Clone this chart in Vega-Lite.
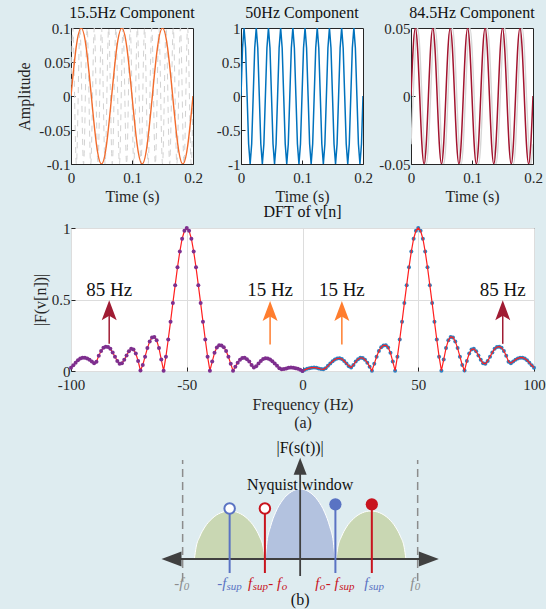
{
"$schema": "https://vega.github.io/schema/vega-lite/v6.json",
"background": "#deecf0",
"padding": {"left": 16, "top": 4, "right": 0, "bottom": 0},
"spacing": -2,
"resolve": {"scale": {"color": "independent"}},
"datasets": {
"p1sig": [{"t":0,"a":0},{"t":0.00833,"a":0.0707},{"t":0.01667,"a":0.1},{"t":0.025,"a":0.0707},{"t":0.03333,"a":0},{"t":0.04167,"a":-0.0707},{"t":0.05,"a":-0.1},{"t":0.05833,"a":-0.0707},{"t":0.06667,"a":0},{"t":0.075,"a":0.0707},{"t":0.08333,"a":0.1},{"t":0.09167,"a":0.0707},{"t":0.1,"a":0},{"t":0.10833,"a":-0.0707},{"t":0.11667,"a":-0.1},{"t":0.125,"a":-0.0707},{"t":0.13333,"a":0},{"t":0.14167,"a":0.0707},{"t":0.15,"a":0.1},{"t":0.15833,"a":0.0707},{"t":0.16667,"a":0},{"t":0.175,"a":-0.0707},{"t":0.18333,"a":-0.1},{"t":0.19167,"a":-0.0707},{"t":0.2,"a":0}],
"p1ref": [{"t":0,"a":0},{"t":0.00294,"a":0.1},{"t":0.00588,"a":0},{"t":0.00882,"a":-0.1},{"t":0.01176,"a":0},{"t":0.01471,"a":0.1},{"t":0.01765,"a":0},{"t":0.02059,"a":-0.1},{"t":0.02353,"a":0},{"t":0.02647,"a":0.1},{"t":0.02941,"a":0},{"t":0.03235,"a":-0.1},{"t":0.03529,"a":0},{"t":0.03824,"a":0.1},{"t":0.04118,"a":0},{"t":0.04412,"a":-0.1},{"t":0.04706,"a":0},{"t":0.05,"a":0.1},{"t":0.05294,"a":0},{"t":0.05588,"a":-0.1},{"t":0.05882,"a":0},{"t":0.06176,"a":0.1},{"t":0.06471,"a":0},{"t":0.06765,"a":-0.1},{"t":0.07059,"a":0},{"t":0.07353,"a":0.1},{"t":0.07647,"a":0},{"t":0.07941,"a":-0.1},{"t":0.08235,"a":0},{"t":0.08529,"a":0.1},{"t":0.08824,"a":0},{"t":0.09118,"a":-0.1},{"t":0.09412,"a":0},{"t":0.09706,"a":0.1},{"t":0.1,"a":0},{"t":0.10294,"a":-0.1},{"t":0.10588,"a":0},{"t":0.10882,"a":0.1},{"t":0.11176,"a":0},{"t":0.11471,"a":-0.1},{"t":0.11765,"a":0},{"t":0.12059,"a":0.1},{"t":0.12353,"a":0},{"t":0.12647,"a":-0.1},{"t":0.12941,"a":0},{"t":0.13235,"a":0.1},{"t":0.13529,"a":0},{"t":0.13824,"a":-0.1},{"t":0.14118,"a":0},{"t":0.14412,"a":0.1},{"t":0.14706,"a":0},{"t":0.15,"a":-0.1},{"t":0.15294,"a":0},{"t":0.15588,"a":0.1},{"t":0.15882,"a":0},{"t":0.16176,"a":-0.1},{"t":0.16471,"a":0},{"t":0.16765,"a":0.1},{"t":0.17059,"a":0},{"t":0.17353,"a":-0.1},{"t":0.17647,"a":0},{"t":0.17941,"a":0.1},{"t":0.18235,"a":0},{"t":0.18529,"a":-0.1},{"t":0.18824,"a":0},{"t":0.19118,"a":0.1},{"t":0.19412,"a":0},{"t":0.19706,"a":-0.1},{"t":0.2,"a":0}],
"p2": [{"t":0,"a":0},{"t":0.0025,"a":0.707},{"t":0.005,"a":1},{"t":0.0075,"a":0.707},{"t":0.01,"a":0},{"t":0.0125,"a":-0.707},{"t":0.015,"a":-1},{"t":0.0175,"a":-0.707},{"t":0.02,"a":0},{"t":0.0225,"a":0.707},{"t":0.025,"a":1},{"t":0.0275,"a":0.707},{"t":0.03,"a":0},{"t":0.0325,"a":-0.707},{"t":0.035,"a":-1},{"t":0.0375,"a":-0.707},{"t":0.04,"a":0},{"t":0.0425,"a":0.707},{"t":0.045,"a":1},{"t":0.0475,"a":0.707},{"t":0.05,"a":0},{"t":0.0525,"a":-0.707},{"t":0.055,"a":-1},{"t":0.0575,"a":-0.707},{"t":0.06,"a":0},{"t":0.0625,"a":0.707},{"t":0.065,"a":1},{"t":0.0675,"a":0.707},{"t":0.07,"a":0},{"t":0.0725,"a":-0.707},{"t":0.075,"a":-1},{"t":0.0775,"a":-0.707},{"t":0.08,"a":0},{"t":0.0825,"a":0.707},{"t":0.085,"a":1},{"t":0.0875,"a":0.707},{"t":0.09,"a":0},{"t":0.0925,"a":-0.707},{"t":0.095,"a":-1},{"t":0.0975,"a":-0.707},{"t":0.1,"a":0},{"t":0.1025,"a":0.707},{"t":0.105,"a":1},{"t":0.1075,"a":0.707},{"t":0.11,"a":0},{"t":0.1125,"a":-0.707},{"t":0.115,"a":-1},{"t":0.1175,"a":-0.707},{"t":0.12,"a":0},{"t":0.1225,"a":0.707},{"t":0.125,"a":1},{"t":0.1275,"a":0.707},{"t":0.13,"a":0},{"t":0.1325,"a":-0.707},{"t":0.135,"a":-1},{"t":0.1375,"a":-0.707},{"t":0.14,"a":0},{"t":0.1425,"a":0.707},{"t":0.145,"a":1},{"t":0.1475,"a":0.707},{"t":0.15,"a":0},{"t":0.1525,"a":-0.707},{"t":0.155,"a":-1},{"t":0.1575,"a":-0.707},{"t":0.16,"a":0},{"t":0.1625,"a":0.707},{"t":0.165,"a":1},{"t":0.1675,"a":0.707},{"t":0.17,"a":0},{"t":0.1725,"a":-0.707},{"t":0.175,"a":-1},{"t":0.1775,"a":-0.707},{"t":0.18,"a":0},{"t":0.1825,"a":0.707},{"t":0.185,"a":1},{"t":0.1875,"a":0.707},{"t":0.19,"a":0},{"t":0.1925,"a":-0.707},{"t":0.195,"a":-1},{"t":0.1975,"a":-0.707},{"t":0.2,"a":0}],
"p3": [{"t":0,"r":0,"g":-0.0354},{"t":0.00357,"r":0.0354,"g":0},{"t":0.00714,"r":0.05,"g":0.0354},{"t":0.01071,"r":0.0354,"g":0.05},{"t":0.01429,"r":0,"g":0.0354},{"t":0.01786,"r":-0.0354,"g":0},{"t":0.02143,"r":-0.05,"g":-0.0354},{"t":0.025,"r":-0.0354,"g":-0.05},{"t":0.02857,"r":0,"g":-0.0354},{"t":0.03214,"r":0.0354,"g":0},{"t":0.03571,"r":0.05,"g":0.0354},{"t":0.03929,"r":0.0354,"g":0.05},{"t":0.04286,"r":0,"g":0.0354},{"t":0.04643,"r":-0.0354,"g":0},{"t":0.05,"r":-0.05,"g":-0.0354},{"t":0.05357,"r":-0.0354,"g":-0.05},{"t":0.05714,"r":0,"g":-0.0354},{"t":0.06071,"r":0.0354,"g":0},{"t":0.06429,"r":0.05,"g":0.0354},{"t":0.06786,"r":0.0354,"g":0.05},{"t":0.07143,"r":0,"g":0.0354},{"t":0.075,"r":-0.0354,"g":0},{"t":0.07857,"r":-0.05,"g":-0.0354},{"t":0.08214,"r":-0.0354,"g":-0.05},{"t":0.08571,"r":0,"g":-0.0354},{"t":0.08929,"r":0.0354,"g":0},{"t":0.09286,"r":0.05,"g":0.0354},{"t":0.09643,"r":0.0354,"g":0.05},{"t":0.1,"r":0,"g":0.0354},{"t":0.10357,"r":-0.0354,"g":0},{"t":0.10714,"r":-0.05,"g":-0.0354},{"t":0.11071,"r":-0.0354,"g":-0.05},{"t":0.11429,"r":0,"g":-0.0354},{"t":0.11786,"r":0.0354,"g":0},{"t":0.12143,"r":0.05,"g":0.0354},{"t":0.125,"r":0.0354,"g":0.05},{"t":0.12857,"r":0,"g":0.0354},{"t":0.13214,"r":-0.0354,"g":0},{"t":0.13571,"r":-0.05,"g":-0.0354},{"t":0.13929,"r":-0.0354,"g":-0.05},{"t":0.14286,"r":0,"g":-0.0354},{"t":0.14643,"r":0.0354,"g":0},{"t":0.15,"r":0.05,"g":0.0354},{"t":0.15357,"r":0.0354,"g":0.05},{"t":0.15714,"r":0,"g":0.0354},{"t":0.16071,"r":-0.0354,"g":0},{"t":0.16429,"r":-0.05,"g":-0.0354},{"t":0.16786,"r":-0.0354,"g":-0.05},{"t":0.17143,"r":0,"g":-0.0354},{"t":0.175,"r":0.0354,"g":0},{"t":0.17857,"r":0.05,"g":0.0354},{"t":0.18214,"r":0.0354,"g":0.05},{"t":0.18571,"r":0,"g":0.0354},{"t":0.18929,"r":-0.0354,"g":0},{"t":0.19286,"r":-0.05,"g":-0.0354},{"t":0.19643,"r":-0.0354,"g":-0.05},{"t":0.2,"r":0,"g":-0.0354}],
"dft": [{"f":-100,"v":0.023},{"f":-99,"v":0.04},{"f":-98,"v":0.058},{"f":-97,"v":0.075},{"f":-96,"v":0.087},{"f":-95,"v":0.093},{"f":-94,"v":0.093},{"f":-93,"v":0.088},{"f":-92,"v":0.079},{"f":-91,"v":0.066},{"f":-90,"v":0.055},{"f":-89,"v":0.065},{"f":-88,"v":0.107},{"f":-87,"v":0.14},{"f":-86,"v":0.163},{"f":-85,"v":0.17},{"f":-84,"v":0.168},{"f":-83,"v":0.155},{"f":-82,"v":0.13},{"f":-81,"v":0.1},{"f":-80,"v":0.07},{"f":-79,"v":0.05},{"f":-78,"v":0.055},{"f":-77,"v":0.078},{"f":-76,"v":0.108},{"f":-75,"v":0.138},{"f":-74,"v":0.155},{"f":-73,"v":0.15},{"f":-72,"v":0.122},{"f":-71,"v":0.07},{"f":-70,"v":0.003},{"f":-69,"v":0.042},{"f":-68,"v":0.1},{"f":-67,"v":0.16},{"f":-66,"v":0.207},{"f":-65,"v":0.235},{"f":-64,"v":0.238},{"f":-63,"v":0.215},{"f":-62,"v":0.16},{"f":-61,"v":0.08},{"f":-60,"v":0.002},{"f":-59,"v":0.1},{"f":-58,"v":0.22},{"f":-57,"v":0.345},{"f":-56,"v":0.475},{"f":-55,"v":0.6},{"f":-54,"v":0.725},{"f":-53,"v":0.835},{"f":-52,"v":0.925},{"f":-51,"v":0.98},{"f":-50,"v":1},{"f":-49,"v":0.98},{"f":-48,"v":0.925},{"f":-47,"v":0.835},{"f":-46,"v":0.725},{"f":-45,"v":0.6},{"f":-44,"v":0.475},{"f":-43,"v":0.345},{"f":-42,"v":0.22},{"f":-41,"v":0.1},{"f":-40,"v":0.002},{"f":-39,"v":0.066},{"f":-38,"v":0.127},{"f":-37,"v":0.165},{"f":-36,"v":0.18},{"f":-35,"v":0.179},{"f":-34,"v":0.166},{"f":-33,"v":0.14},{"f":-32,"v":0.1},{"f":-31,"v":0.05},{"f":-30,"v":0.002},{"f":-29,"v":0.03},{"f":-28,"v":0.058},{"f":-27,"v":0.079},{"f":-26,"v":0.091},{"f":-25,"v":0.092},{"f":-24,"v":0.083},{"f":-23,"v":0.066},{"f":-22,"v":0.042},{"f":-21,"v":0.025},{"f":-20,"v":0.034},{"f":-19,"v":0.052},{"f":-18,"v":0.07},{"f":-17,"v":0.084},{"f":-16,"v":0.089},{"f":-15,"v":0.087},{"f":-14,"v":0.08},{"f":-13,"v":0.068},{"f":-12,"v":0.053},{"f":-11,"v":0.036},{"f":-10,"v":0.02},{"f":-9,"v":0.012},{"f":-8,"v":0.014},{"f":-7,"v":0.018},{"f":-6,"v":0.022},{"f":-5,"v":0.024},{"f":-4,"v":0.023},{"f":-3,"v":0.02},{"f":-2,"v":0.015},{"f":-1,"v":0.008},{"f":0,"v":0},{"f":1,"v":0.008},{"f":2,"v":0.015},{"f":3,"v":0.02},{"f":4,"v":0.023},{"f":5,"v":0.024},{"f":6,"v":0.022},{"f":7,"v":0.018},{"f":8,"v":0.014},{"f":9,"v":0.012},{"f":10,"v":0.02},{"f":11,"v":0.036},{"f":12,"v":0.053},{"f":13,"v":0.068},{"f":14,"v":0.08},{"f":15,"v":0.087},{"f":16,"v":0.089},{"f":17,"v":0.084},{"f":18,"v":0.07},{"f":19,"v":0.052},{"f":20,"v":0.034},{"f":21,"v":0.025},{"f":22,"v":0.042},{"f":23,"v":0.066},{"f":24,"v":0.083},{"f":25,"v":0.092},{"f":26,"v":0.091},{"f":27,"v":0.079},{"f":28,"v":0.058},{"f":29,"v":0.03},{"f":30,"v":0.002},{"f":31,"v":0.05},{"f":32,"v":0.1},{"f":33,"v":0.14},{"f":34,"v":0.166},{"f":35,"v":0.179},{"f":36,"v":0.18},{"f":37,"v":0.165},{"f":38,"v":0.127},{"f":39,"v":0.066},{"f":40,"v":0.002},{"f":41,"v":0.1},{"f":42,"v":0.22},{"f":43,"v":0.345},{"f":44,"v":0.475},{"f":45,"v":0.6},{"f":46,"v":0.725},{"f":47,"v":0.835},{"f":48,"v":0.925},{"f":49,"v":0.98},{"f":50,"v":1},{"f":51,"v":0.98},{"f":52,"v":0.925},{"f":53,"v":0.835},{"f":54,"v":0.725},{"f":55,"v":0.6},{"f":56,"v":0.475},{"f":57,"v":0.345},{"f":58,"v":0.22},{"f":59,"v":0.1},{"f":60,"v":0.002},{"f":61,"v":0.08},{"f":62,"v":0.16},{"f":63,"v":0.215},{"f":64,"v":0.238},{"f":65,"v":0.235},{"f":66,"v":0.207},{"f":67,"v":0.16},{"f":68,"v":0.1},{"f":69,"v":0.042},{"f":70,"v":0.003},{"f":71,"v":0.07},{"f":72,"v":0.122},{"f":73,"v":0.15},{"f":74,"v":0.155},{"f":75,"v":0.138},{"f":76,"v":0.108},{"f":77,"v":0.078},{"f":78,"v":0.055},{"f":79,"v":0.05},{"f":80,"v":0.07},{"f":81,"v":0.1},{"f":82,"v":0.13},{"f":83,"v":0.155},{"f":84,"v":0.168},{"f":85,"v":0.17},{"f":86,"v":0.163},{"f":87,"v":0.14},{"f":88,"v":0.107},{"f":89,"v":0.065},{"f":90,"v":0.055},{"f":91,"v":0.066},{"f":92,"v":0.079},{"f":93,"v":0.088},{"f":94,"v":0.093},{"f":95,"v":0.093},{"f":96,"v":0.087},{"f":97,"v":0.075},{"f":98,"v":0.058},{"f":99,"v":0.04},{"f":100,"v":0.023}],
"arrows": [{"f":-83.5,"lo":0.19,"hi":0.43,"v":0.425,"ly":0.525,"k":"85","label":"85 Hz"},{"f":86.5,"lo":0.19,"hi":0.43,"v":0.425,"ly":0.525,"k":"85","label":"85 Hz"},{"f":-14,"lo":0.185,"hi":0.42,"v":0.42,"ly":0.525,"k":"15","label":"15 Hz"},{"f":17,"lo":0.185,"hi":0.42,"v":0.42,"ly":0.525,"k":"15","label":"15 Hz"}],
"humps": [{"x":-0.9,"y":0,"h":"L","k":"side"},{"x":-0.885,"y":0.119,"h":"L","k":"side"},{"x":-0.855,"y":0.222,"h":"L","k":"side"},{"x":-0.81,"y":0.321,"h":"L","k":"side"},{"x":-0.75,"y":0.404,"h":"L","k":"side"},{"x":-0.675,"y":0.462,"h":"L","k":"side"},{"x":-0.6,"y":0.48,"h":"L","k":"side"},{"x":-0.525,"y":0.462,"h":"L","k":"side"},{"x":-0.45,"y":0.404,"h":"L","k":"side"},{"x":-0.39,"y":0.321,"h":"L","k":"side"},{"x":-0.345,"y":0.222,"h":"L","k":"side"},{"x":-0.315,"y":0.119,"h":"L","k":"side"},{"x":-0.3,"y":0,"h":"L","k":"side"},
{"x":-0.297,"y":0,"h":"C","k":"nyq"},{"x":-0.282,"y":0.173,"h":"C","k":"nyq"},{"x":-0.252,"y":0.324,"h":"C","k":"nyq"},{"x":-0.208,"y":0.468,"h":"C","k":"nyq"},{"x":-0.149,"y":0.589,"h":"C","k":"nyq"},{"x":-0.074,"y":0.673,"h":"C","k":"nyq"},{"x":0,"y":0.7,"h":"C","k":"nyq"},{"x":0.074,"y":0.673,"h":"C","k":"nyq"},{"x":0.149,"y":0.589,"h":"C","k":"nyq"},{"x":0.208,"y":0.468,"h":"C","k":"nyq"},{"x":0.252,"y":0.324,"h":"C","k":"nyq"},{"x":0.282,"y":0.173,"h":"C","k":"nyq"},{"x":0.297,"y":0,"h":"C","k":"nyq"},
{"x":0.306,"y":0,"h":"R","k":"side"},{"x":0.321,"y":0.119,"h":"R","k":"side"},{"x":0.351,"y":0.222,"h":"R","k":"side"},{"x":0.395,"y":0.321,"h":"R","k":"side"},{"x":0.455,"y":0.404,"h":"R","k":"side"},{"x":0.529,"y":0.462,"h":"R","k":"side"},{"x":0.603,"y":0.48,"h":"R","k":"side"},{"x":0.677,"y":0.462,"h":"R","k":"side"},{"x":0.752,"y":0.404,"h":"R","k":"side"},{"x":0.811,"y":0.321,"h":"R","k":"side"},{"x":0.855,"y":0.222,"h":"R","k":"side"},{"x":0.885,"y":0.119,"h":"R","k":"side"},{"x":0.9,"y":0,"h":"R","k":"side"}],
"slines": [{"k":"lim","x":-1,"x2":-1,"y":-0.22,"y2":0.99},{"k":"lim","x":1,"x2":1,"y":-0.22,"y2":0.99},{"k":"axis","x":-1.1,"x2":1.1,"y":0,"y2":0},{"k":"axis","x":0,"x2":0,"y":-0.17,"y2":0.93},{"k":"sup","x":-0.6,"x2":-0.6,"y":-0.14,"y2":0.505},{"k":"alias","x":-0.3,"x2":-0.3,"y":-0.14,"y2":0.505},{"k":"sup","x":0.3,"x2":0.3,"y":-0.14,"y2":0.547},{"k":"alias","x":0.61,"x2":0.61,"y":-0.14,"y2":0.547}],
"heads": [{"x":-1.095,"y":0,"d":"left","k":"axis"},{"x":1.095,"y":0,"d":"right","k":"axis"},{"x":0,"y":0.928,"d":"up","k":"axis"}],
"circles": [{"x":-0.6,"y":0.505,"k":"sup","o":"open"},{"x":-0.3,"y":0.505,"k":"alias","o":"open"},{"x":0.3,"y":0.547,"k":"sup","o":"filled"},{"x":0.61,"y":0.547,"k":"alias","o":"filled"}],
"stext": [{"x":0,"y":1.06,"t":"|F(s(t))|"},{"x":0,"y":0.69,"t":"Nyquist window"},{"x":0,"y":-0.46,"t":"(b)"}],
"slab": [{"x":-0.706,"y":-0.29,"t":"-f","k":"sup","z":"main"},{"x":-0.626,"y":-0.31,"t":"sup","k":"sup","z":"sub"},{"x":-0.443,"y":-0.29,"t":"f","k":"alias","z":"main"},{"x":-0.404,"y":-0.31,"t":"sup","k":"alias","z":"sub"},{"x":-0.272,"y":-0.29,"t":"- f","k":"alias","z":"main"},{"x":-0.157,"y":-0.31,"t":"o","k":"alias","z":"sub"},{"x":0.128,"y":-0.29,"t":"f","k":"alias","z":"main"},{"x":0.166,"y":-0.31,"t":"o","k":"alias","z":"sub"},{"x":0.217,"y":-0.29,"t":"- f","k":"alias","z":"main"},{"x":0.332,"y":-0.31,"t":"sup","k":"alias","z":"sub"},{"x":0.545,"y":-0.29,"t":"f","k":"sup","z":"main"},{"x":0.583,"y":-0.31,"t":"sup","k":"sup","z":"sub"},{"x":-1.072,"y":-0.29,"t":"-f","k":"lim","z":"main"},{"x":-0.991,"y":-0.31,"t":"0","k":"lim","z":"sub"},{"x":0.936,"y":-0.29,"t":"f","k":"lim","z":"main"},{"x":0.975,"y":-0.31,"t":"0","k":"lim","z":"sub"}]
},
"vconcat": [
{
"hconcat": [
{
"width": 122, "height": 136,
"title": {"text": "15.5Hz Component"},
"encoding": {
"x": {"field": "t", "type": "quantitative", "scale": {"domain": [0, 0.2]}, "axis": {"title": "Time (s)", "values": [0, 0.1, 0.2], "labelExpr": "replace(format(datum.value,'~g'),'\u2212','-')"}},
"y": {"field": "a", "type": "quantitative", "scale": {"domain": [-0.1, 0.1]}, "axis": {"title": "Amplitude", "values": [-0.1, -0.05, 0, 0.05, 0.1], "labelExpr": "replace(format(datum.value,'~g'),'\u2212','-')"}}
},
"layer": [
{"data": {"name": "p1ref"}, "mark": {"type": "line", "color": "#d2d2d2", "strokeWidth": 1, "strokeDash": [6, 5], "interpolate": "natural", "clip": true}},
{"data": {"name": "p1sig"}, "mark": {"type": "line", "color": "#f26b2c", "strokeWidth": 1.4, "interpolate": "natural", "clip": true}}
]
},
{
"width": 122, "height": 136,
"title": {"text": "50Hz Component"},
"data": {"name": "p2"},
"mark": {"type": "line", "color": "#0072bd", "strokeWidth": 1.5, "clip": true},
"encoding": {
"x": {"field": "t", "type": "quantitative", "scale": {"domain": [0, 0.2]}, "axis": {"title": "Time (s)", "values": [0, 0.1, 0.2], "labelExpr": "replace(format(datum.value,'~g'),'\u2212','-')"}},
"y": {"field": "a", "type": "quantitative", "scale": {"domain": [-1, 1]}, "axis": {"title": null, "values": [-1, -0.5, 0, 0.5, 1], "labelExpr": "replace(format(datum.value,'~g'),'\u2212','-')"}}
}
},
{
"width": 122, "height": 136,
"title": {"text": "84.5Hz Component"},
"data": {"name": "p3"},
"encoding": {
"x": {"field": "t", "type": "quantitative", "scale": {"domain": [0, 0.2]}, "axis": {"title": "Time (s)", "values": [0, 0.1, 0.2], "labelExpr": "replace(format(datum.value,'~g'),'\u2212','-')"}}
},
"layer": [
{"mark": {"type": "line", "color": "#d6d6d6", "strokeWidth": 1.4, "interpolate": "natural", "clip": true},
 "encoding": {"y": {"field": "g", "type": "quantitative", "scale": {"domain": [-0.05, 0.05]}, "axis": {"title": null, "values": [-0.05, 0, 0.05], "labelExpr": "replace(format(datum.value,'~g'),'\u2212','-')"}}}},
{"mark": {"type": "line", "color": "#a2142f", "strokeWidth": 1.5, "interpolate": "natural", "clip": true},
 "encoding": {"y": {"field": "r", "type": "quantitative", "scale": {"domain": [-0.05, 0.05]}}}}
]
}
],
"spacing": 48,
"bounds": "flush"
},
{
"width": 463, "height": 143,
"title": {"text": "DFT of v[n]", "offset": 1},
"encoding": {
"x": {"field": "f", "type": "quantitative", "scale": {"domain": [-100, 100]}, "axis": {"title": ["Frequency (Hz)", "(a)"], "titleLineHeight": 18, "titlePadding": 4, "values": [-100, -50, 0, 50, 100], "grid": true, "gridColor": "#dddddd", "labelExpr": "replace(format(datum.value,'~g'),'\u2212','-')"}},
"y": {"field": "v", "type": "quantitative", "scale": {"domain": [0, 1]}, "axis": {"title": "|F(v[n])|", "values": [0, 0.5, 1], "grid": true, "gridColor": "#dddddd", "titlePadding": 3, "labelExpr": "replace(format(datum.value,'~g'),'\u2212','-')"}}
},
"layer": [
{"data": {"name": "dft"}, "transform": [{"filter": "datum.f >= 0"}], "mark": {"type": "point", "filled": true, "color": "#2f80c0", "size": 16, "opacity": 1}},
{"data": {"name": "dft"}, "mark": {"type": "line", "color": "#ff1f1f", "strokeWidth": 1.2}},
{"data": {"name": "dft"}, "transform": [{"filter": "datum.f <= 0"}], "mark": {"type": "point", "filled": true, "color": "#7e2f8e", "size": 16, "opacity": 1}},
{"data": {"name": "arrows"}, "mark": {"type": "rule", "strokeWidth": 1.5},
 "encoding": {"y": {"field": "lo", "type": "quantitative", "scale": {"domain": [0, 1]}}, "y2": {"field": "hi"}, "color": {"field": "k", "type": "nominal", "scale": {"domain": ["85", "15"], "range": ["#a01c33", "#ff7d2e"]}, "legend": null}}},
{"data": {"name": "arrows"}, "mark": {"type": "point", "filled": true, "opacity": 1, "size": 400, "shape": "M0,-1L0.75,1L0,0.55L-0.75,1Z"},
 "encoding": {"color": {"field": "k", "type": "nominal", "scale": {"domain": ["85", "15"], "range": ["#a01c33", "#ff7d2e"]}, "legend": null}}},
{"data": {"name": "arrows"}, "mark": {"type": "text", "fontSize": 19, "color": "#111111", "align": "center", "baseline": "alphabetic"},
 "encoding": {"y": {"field": "ly", "type": "quantitative", "scale": {"domain": [0, 1]}}, "text": {"field": "label"}}}
]
},
{
"width": 463, "height": 178,
"view": {"stroke": null, "fill": null},
"encoding": {
"x": {"field": "x", "type": "quantitative", "scale": {"domain": [-1.95, 1.99]}, "axis": null},
"y": {"field": "y", "type": "quantitative", "scale": {"domain": [-0.5, 1.28]}, "axis": null},
"color": {"field": "k", "type": "nominal", "scale": {"domain": ["sup", "alias", "lim", "axis", "side", "nyq"], "range": ["#5a73c3", "#c8141e", "#8c8c8c", "#404040", "#c9d7b3", "#b3c2df"]}, "legend": null}
},
"layer": [
{"data": {"name": "humps"}, "mark": {"type": "area", "interpolate": "monotone", "stroke": "white", "strokeWidth": 1, "opacity": 1},
 "encoding": {"y": {"field": "y", "type": "quantitative", "stack": null, "scale": {"domain": [-0.5, 1.28]}, "axis": null}, "y2": {"datum": 0}, "detail": {"field": "h"}}},
{"data": {"name": "slines"}, "transform": [{"filter": "datum.k == 'lim'"}], "mark": {"type": "rule", "strokeWidth": 1.5, "strokeDash": [8, 5]},
 "encoding": {"x2": {"field": "x2"}, "y2": {"field": "y2"}}},
{"data": {"name": "slines"}, "transform": [{"filter": "datum.k == 'axis'"}], "mark": {"type": "rule", "strokeWidth": 1.8},
 "encoding": {"x2": {"field": "x2"}, "y2": {"field": "y2"}}},
{"data": {"name": "slines"}, "transform": [{"filter": "datum.k == 'sup' || datum.k == 'alias'"}], "mark": {"type": "rule", "strokeWidth": 2},
 "encoding": {"x2": {"field": "x2"}, "y2": {"field": "y2"}}},
{"data": {"name": "heads"}, "mark": {"type": "point", "filled": true, "opacity": 1, "size": 400},
 "encoding": {"shape": {"field": "d", "type": "nominal", "scale": {"domain": ["left", "right", "up"], "range": ["M-1,0L1,-0.75L1,0.75Z", "M1,0L-1,-0.75L-1,0.75Z", "M0,-0.85L0.65,0.85L-0.65,0.85Z"]}, "legend": null}}},
{"data": {"name": "circles"}, "transform": [{"filter": "datum.o == 'open'"}], "mark": {"type": "point", "filled": false, "fill": "white", "fillOpacity": 1, "opacity": 1, "strokeWidth": 2, "size": 110}},
{"data": {"name": "circles"}, "transform": [{"filter": "datum.o == 'filled'"}], "mark": {"type": "point", "filled": true, "opacity": 1, "size": 150}},
{"data": {"name": "slab"}, "transform": [{"filter": "datum.z == 'main'"}], "mark": {"type": "text", "fontSize": 15, "fontStyle": "italic", "align": "left", "baseline": "alphabetic"},
 "encoding": {"text": {"field": "t"}}},
{"data": {"name": "slab"}, "transform": [{"filter": "datum.z == 'sub'"}], "mark": {"type": "text", "fontSize": 11, "fontStyle": "italic", "align": "left", "baseline": "alphabetic"},
 "encoding": {"text": {"field": "t"}}},
{"data": {"name": "stext"}, "mark": {"type": "text", "fontSize": 16, "color": "#111111", "align": "center", "baseline": "alphabetic"},
 "encoding": {"text": {"field": "t"}, "color": {"value": "#111111"}}}
]
}
],
"config": {
"font": "Liberation Serif",
"view": {"stroke": "#262626", "strokeWidth": 1, "fill": "white"},
"axis": {"labelFont": "Liberation Serif", "labelFontSize": 15, "labelColor": "#262626", "titleFont": "Liberation Serif", "titleFontSize": 16, "titleFontWeight": "normal", "titleColor": "#262626", "domain": false, "grid": false, "tickSize": -4, "tickColor": "#262626", "labelPadding": 5, "titlePadding": 3, "labelFlush": false},
"axisX": {"labelPadding": 10, "titlePadding": 3},
"axisY": {"titlePadding": 6},
"title": {"font": "Liberation Serif", "fontSize": 16, "fontWeight": "normal", "color": "#111111", "offset": 0.1},
"text": {"font": "Liberation Serif"}
}
}
